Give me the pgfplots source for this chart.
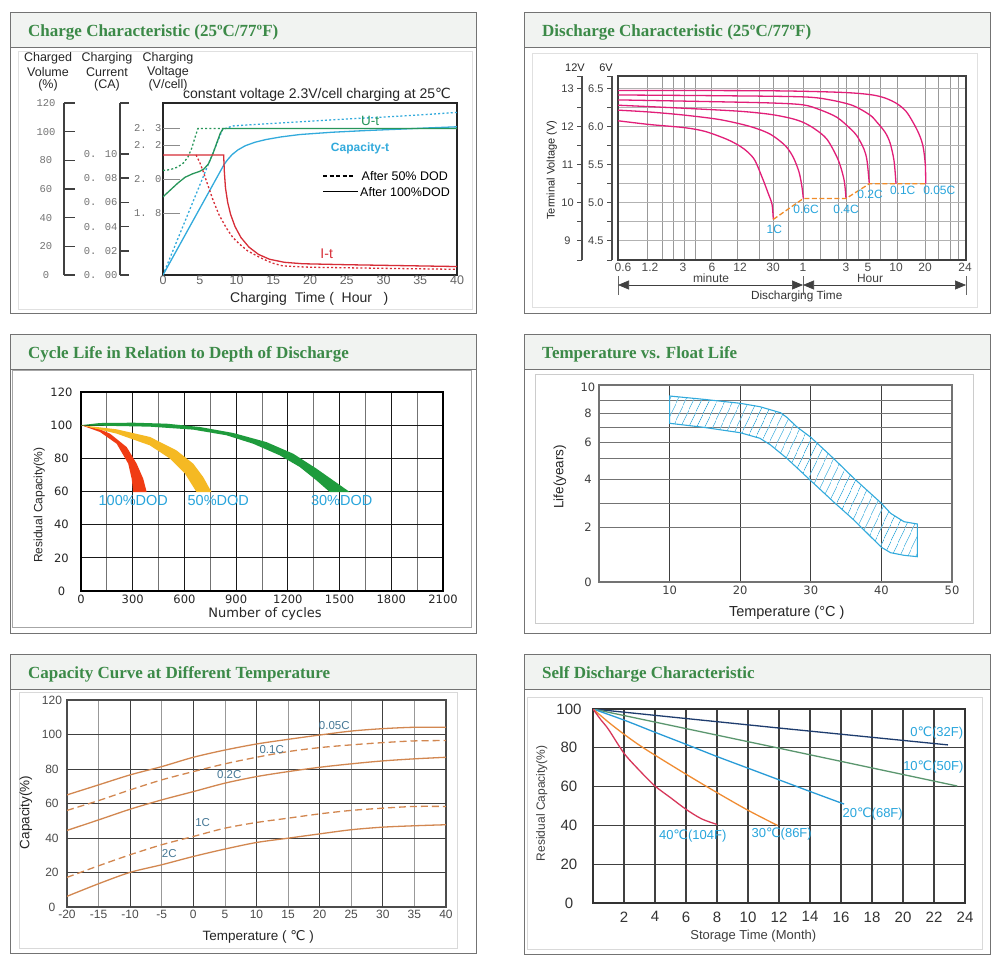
\documentclass[border=0pt]{standalone}
\usepackage{fontspec}
\setmainfont{Liberation Sans}
\newfontfamily\titlefont{Liberation Serif}
\newfontfamily\monofont{Liberation Mono}
\newfontfamily\dvfont{DejaVu Sans}
\usepackage{pgfplots}
\pgfplotsset{compat=1.18}
\usetikzlibrary{patterns.meta,arrows.meta}

\definecolor{ttlgreen}{RGB}{60,138,72}
\definecolor{hdbg}{RGB}{241,243,241}
\definecolor{pframe}{RGB}{115,115,115}
\definecolor{cyanA}{RGB}{50,170,220}
\definecolor{greenA}{RGB}{40,150,90}
\definecolor{redA}{RGB}{215,45,55}
\definecolor{magA}{RGB}{226,30,120}
\definecolor{orgA}{RGB}{240,140,40}
\definecolor{lblcyan}{RGB}{40,165,220}
\definecolor{clA}{RGB}{240,60,20}
\definecolor{clB}{RGB}{245,185,35}
\definecolor{clC}{RGB}{30,155,60}
\definecolor{capor}{RGB}{210,135,80}
\definecolor{capblue}{RGB}{70,120,150}
\definecolor{sdA}{RGB}{30,60,110}
\definecolor{sdB}{RGB}{90,150,110}
\definecolor{sdC}{RGB}{40,155,215}
\definecolor{sdD}{RGB}{240,140,50}
\definecolor{sdE}{RGB}{215,55,90}

\newcommand{\fs}[1]{\fontsize{#1}{#1}\selectfont}
\newcommand{\degC}{{\dvfont ℃}}
\newcommand{\panel}[5]{%
  \fill[white] (#1pt,-#2pt) rectangle (#3pt,-#4pt);
  \fill[hdbg] (#1pt,-#2pt) rectangle (#3pt,{-(#2+35)*1pt});
  \draw[pframe,line width=1pt] (#1pt,-#2pt) rectangle (#3pt,-#4pt);
  \draw[pframe,line width=1pt] (#1pt,{-(#2+35)*1pt}) -- (#3pt,{-(#2+35)*1pt});
  \node[anchor=base west,text=ttlgreen,font=\titlefont\bfseries\fs{17},inner sep=0pt] at ({(#1+18)*1pt},{-(#2+24)*1pt}) {#5};
}
\pgfplotsset{pb/.style={anchor=south west,scale only axis,/pgf/number format/assume math mode=true,/pgf/number format/1000 sep={}}}

\begin{document}
\begin{tikzpicture}
\path[use as bounding box] (0pt,0pt) rectangle (1000pt,-966pt);
\fill[white] (0pt,0pt) rectangle (1000pt,-966pt);

%================ PANEL 1 =================
\panel{10}{13}{476}{313}{Charge Characteristic (25ºC/77ºF)}
\draw[black!12] (18pt,-51pt) rectangle (472pt,-309pt);
\begin{scope}[every node/.style={font=\fs{12.5},text=black!85,inner sep=0pt}]
\node at (48pt,-58.5pt) {Charged};
\node at (48pt,-72.5pt) {Volume};
\node at (48pt,-85pt) {(\%)};
\node at (107pt,-58.5pt) {Charging};
\node at (107pt,-72.5pt) {Current};
\node at (107pt,-85pt) {(CA)};
\node at (168pt,-58.5pt) {Charging};
\node at (168pt,-72.5pt) {Voltage};
\node at (168pt,-85pt) {(V/cell)};
\node[font=\fs{14}] at (317pt,-94.5pt) {constant voltage 2.3V/cell charging at 25\degC};
\end{scope}

% volume bracket
\begin{axis}[pb,at={(64pt,-275pt)},width=11pt,height=172pt,
  xmin=0,xmax=1,ymin=0,ymax=120,hide x axis,axis y line*=left,
  axis line style={black!75,line width=1.6pt,-},
  ytick={0,20,40,60,80,100,120},yticklabels={0,20,40,60,80,100,120},
  tick align=inside,major tick length=11pt,
  tick style={black!75,line width=1.6pt},
  yticklabel style={font=\monofont\fs{10.5},text=black!55,text width=19pt,align=center,xshift=-5pt}]
\end{axis}
% current bracket
\begin{axis}[pb,at={(120pt,-275pt)},width=9pt,height=172pt,
  xmin=0,xmax=1,ymin=0,ymax=0.1421,hide x axis,axis y line*=left,
  axis line style={black!75,line width=1.6pt,-},
  ytick={0,0.02,0.04,0.06,0.08,0.1,0.1421},
  yticklabels={0. 00,0. 02,0. 04,0. 06,0. 08,0. 10,{}},
  tick align=inside,major tick length=9pt,
  tick style={black!75,line width=1.6pt},
  yticklabel style={font=\monofont\fs{10.5},text=black!55,xshift=1pt}]
\end{axis}
% main axis (volume units)
\begin{axis}[pb,at={(163pt,-275pt)},width=294pt,height=172pt,
  xmin=0,xmax=40,ymin=0,ymax=120,
  axis line style={black!85,line width=1.4pt},
  xtick={0,5,...,40},ytick=\empty,major tick length=0pt,
  xticklabel style={font=\fs{12.5},text=black!60,yshift=2.5pt}]
\addplot[cyanA,line width=1.3pt] coordinates {(0,0)(8.3,77)(8.8,80.5)(9.4,84)(10.2,87.3)(11.2,90.2)(12.5,92.6)(14,94.5)(16,96.3)(18.6,98)(23,99.6)(27.7,100.8)(32,101.7)(36,102.6)(40,103.4)};
\addplot[cyanA,line width=1.3pt,dash pattern=on 2pt off 2.2pt] coordinates {(0,0)(8.1,101.5)(9.5,104)(14.1,105.5)(18.6,106.9)(23.1,108.3)(32.2,110.8)(40,113.4)};
\end{axis}
% voltage axis
\begin{axis}[pb,at={(163pt,-275pt)},width=294pt,height=172pt,
  xmin=0,xmax=40,ymin=1.435,ymax=2.447,hide x axis,axis y line*=left,
  axis line style={draw=none},
  ytick={1.8,2.0,2.2,2.3},yticklabels={1. 8,2. 0,2. 2,2. 3},
  tick align=inside,major tick length=17pt,tick style={black!45,line width=0.8pt},
  yticklabel style={font=\monofont\fs{10.5},text=black!55,xshift=2pt}]
\addplot[greenA,line width=1.3pt] coordinates {(0,1.894)(0.5,1.915)(1,1.935)(2,1.975)(3,2.01)(4,2.03)(5,2.045)(5.6,2.06)(6.2,2.09)(6.8,2.15)(7.3,2.21)(7.8,2.27)(8.2,2.297)(40,2.297)};
\addplot[greenA,line width=1.3pt,dash pattern=on 2pt off 2.2pt] coordinates {(0,2.05)(1,2.055)(2,2.07)(2.8,2.095)(3.4,2.13)(3.9,2.18)(4.4,2.25)(4.75,2.297)(8.2,2.297)};
\end{axis}
% current axis
\begin{axis}[pb,at={(163pt,-275pt)},width=294pt,height=172pt,
  xmin=0,xmax=40,ymin=0,ymax=0.1421,hide axis]
\addplot[redA,line width=1.3pt] coordinates {(0,0.0992)(8.25,0.0992)(8.35,0.085)(8.5,0.072)(8.8,0.06)(9.2,0.05)(9.8,0.04)(10.6,0.031)(11.7,0.023)(13,0.017)(14.5,0.013)(16.5,0.0105)(19,0.0093)(25,0.0085)(32,0.0078)(40,0.007)};
\addplot[redA,line width=1.3pt,dash pattern=on 2pt off 2.2pt] coordinates {(4.5,0.0992)(5,0.093)(5.5,0.085)(6,0.076)(6.8,0.062)(7.6,0.05)(8.6,0.039)(9.5,0.031)(10.4,0.0256)(11.5,0.02)(13.2,0.0144)(14.8,0.01)(16.3,0.0075)(20,0.0064)(30,0.0055)(40,0.0047)};
\end{axis}
\node[text=greenA,font=\fs{13.5}] at (370pt,-120.5pt) {U-t};
\node[text=cyanA,font=\bfseries\fs{12}] at (360pt,-148.3pt) {Capacity-t};
\node[text=redA,font=\fs{14}] at (326.7pt,-253.3pt) {I-t};
\draw[black,line width=1.2pt,dash pattern=on 4pt off 2.5pt] (323pt,-176pt) -- (353pt,-176pt);
\node[anchor=west,inner sep=0pt,font=\fs{12.5}] at (361.5pt,-176pt) {After 50\% DOD};
\draw[black,line width=1.2pt] (323pt,-191.7pt) -- (358pt,-191.7pt);
\node[anchor=west,inner sep=0pt,font=\fs{12.5}] at (360pt,-191.7pt) {After 100\%DOD};
\node[font=\fs{14},text=black!85] at (309.3pt,-298.7pt) {Charging\ \ Time ( \ Hour \ \ )};

%================ PANEL 2 =================
\panel{524}{13}{990}{313}{Discharge Characteristic (25ºC/77ºF)}
\draw[black!12] (532pt,-53pt) rectangle (977pt,-307pt);
\begin{axis}[pb,at={(618pt,-260pt)},width=348pt,height=184pt,
  xmin=618,xmax=966,ymin=8.48,ymax=13.33,
  axis line style={black!75,line width=1.5pt},
  xtick={623,650,683,712,740,773,803,846,868,896,925,965},
  xticklabels={0.6,1.2,3,6,12,30,1,3,5,10,20,24},
  minor xtick={647,662,673,684,695,711,737,759,773,788,803,820,838,846,858,869,880,897,925,938,950,958},
  ytick={9,9.5,10,10.5,11,11.5,12,12.5,13},yticklabel=\empty,
  major tick length=0pt,minor tick length=0pt,
  xminorgrids=true,ymajorgrids=true,
  minor grid style={black!40,line width=0.7pt},major grid style={black!30,line width=0.7pt},
  xticklabel style={font=\fs{12},text=black!70}]
\addplot[magA,line width=1.3pt,smooth,tension=0.5] coordinates {(618,12.15)(650,12.05)(684,11.97)(705,11.87)(727,11.66)(740,11.48)(748,11.32)(755,11.1)(763,10.6)(768,10.25)(772,9.95)(773.3,9.55)};
\addplot[magA,line width=1.3pt,smooth,tension=0.5] coordinates {(618,12.43)(650,12.38)(684,12.3)(720,12.18)(750,12.0)(770,11.8)(785,11.5)(793,11.2)(799,10.8)(802,10.4)(803.3,10.1)};
\addplot[magA,line width=1.3pt,smooth,tension=0.5] coordinates {(618,12.56)(684,12.48)(740,12.4)(770,12.32)(790,12.22)(803,12.11)(815,11.93)(827,11.66)(838,11.13)(844,10.6)(846,10.1)};
\addplot[magA,line width=1.3pt,smooth,tension=0.5] coordinates {(618,12.7)(700,12.66)(770,12.62)(803,12.57)(820,12.44)(837,12.24)(850,11.95)(857,11.75)(864,11.4)(867,11.1)(869.3,10.49)};
\addplot[magA,line width=1.3pt,smooth,tension=0.5] coordinates {(618,12.83)(720,12.81)(803,12.78)(830,12.7)(853,12.55)(870,12.3)(877,12.11)(885,11.85)(890,11.57)(894,11.1)(896,10.49)};
\addplot[magA,line width=1.3pt,smooth,tension=0.5] coordinates {(618,12.95)(770,12.94)(840,12.9)(870,12.84)(885,12.75)(897,12.6)(906,12.4)(913,12.11)(919,11.8)(923,11.48)(925.3,11.0)(925.7,10.49)};
\addplot[orgA,line width=1.3pt,dash pattern=on 5pt off 2.5pt] coordinates {(773.3,9.55)(803.3,10.1)(846,10.1)(869.3,10.49)(925.7,10.49)};
\end{axis}
\begin{axis}[pb,at={(582pt,-260pt)},width=1pt,height=184pt,
  xmin=0,xmax=1,ymin=8.48,ymax=13.33,hide x axis,axis y line*=left,
  axis line style={black!70,line width=1.1pt,-},
  ytick={8.48,9,9.5,10,10.5,11,11.5,12,12.5,13,13.33},yticklabels={{},9,{},10,{},11,{},12,{},13,{}},
  tick align=outside,major tick length=5pt,tick style={black!70,line width=1pt},
  yticklabel style={font=\fs{11},text=black!75,text width=12pt,align=center}]
\end{axis}
\begin{axis}[pb,at={(612pt,-260pt)},width=1pt,height=184pt,
  xmin=0,xmax=1,ymin=8.48,ymax=13.33,hide x axis,axis y line*=left,
  axis line style={black!70,line width=1.1pt,-},
  ytick={8.48,9,9.5,10,10.5,11,11.5,12,12.5,13,13.33},yticklabels={{},4.5,{},5.0,{},5.5,{},6.0,{},6.5,{}},
  tick align=outside,major tick length=5pt,tick style={black!70,line width=1pt},
  yticklabel style={font=\fs{11},text=black!75}]
\end{axis}
\node[font=\fs{11},text=black!85] at (575pt,-67.7pt) {12V};
\node[font=\fs{11},text=black!85] at (606pt,-67.7pt) {6V};
\node[rotate=90,font=\fs{11},text=black!85] at (551.7pt,-170pt) {Terminal Voltage (V)};
\begin{scope}[every node/.style={font=\fs{12},text=lblcyan}]
\node at (774.3pt,-229.3pt) {1C};
\node at (806pt,-209.3pt) {0.6C};
\node at (846pt,-209.3pt) {0.4C};
\node at (870pt,-194.3pt) {0.2C};
\node at (902.7pt,-190pt) {0.1C};
\node at (939.3pt,-190pt) {0.05C};
\end{scope}
\node[font=\fs{12},text=black!75] at (711pt,-278.3pt) {minute};
\node[font=\fs{12},text=black!75] at (870pt,-278.3pt) {Hour};
\node[font=\fs{11.8},text=black!80] at (796.7pt,-296pt) {Discharging Time};
\draw[black!60,line width=0.6pt] (618pt,-276pt) -- (618pt,-295pt);
\draw[black!60,line width=0.6pt] (803pt,-276pt) -- (803pt,-295pt);
\draw[black!60,line width=0.6pt] (966pt,-276pt) -- (966pt,-295pt);
\draw[black!75,line width=0.6pt,{Triangle[length=11pt,width=9pt]}-{Triangle[length=11pt,width=9pt]}] (618pt,-285pt) -- (803pt,-285pt);
\draw[black!75,line width=0.6pt,{Triangle[length=11pt,width=9pt]}-{Triangle[length=11pt,width=9pt]}] (803pt,-285pt) -- (966pt,-285pt);

%================ PANEL 3 =================
\panel{10}{334}{476}{633}{Cycle Life in Relation to Depth of Discharge}
\draw[black!35,line width=0.8pt] (12pt,-370pt) rectangle (471pt,-627pt);
\begin{axis}[pb,at={(81pt,-591pt)},width=362pt,height=199pt,
  xmin=0,xmax=2100,ymin=0,ymax=120,
  axis line style={black,line width=1.5pt},
  xtick={0,300,...,2100},minor xtick={150,450,...,1950},ytick={0,20,...,120},
  grid=both,major grid style={black!90,line width=1.1pt},minor grid style={black!55,line width=0.8pt},
  major tick length=0pt,minor tick length=0pt,
  tick label style={font=\dvfont\fs{11.5},text=black!85},
  yticklabel style={text width=22pt,align=center,xshift=-5pt}]
\addplot[fill=clA,draw=none] coordinates {(0,100)(110,97.5)(168,94.9)(265,86.8)(323,76.8)(361,67.7)(381,59.7)(303,59.7)(294,67.7)(274,76.8)(207,88.8)(110,95.9)(0,100)} -- cycle;
\addplot[fill=clB,draw=none] coordinates {(0,100)(207,97.5)(400,92.9)(554,84.8)(651,76.8)(709,68.7)(757,59.7)(670,59.7)(603,70.8)(516,79.8)(400,87.8)(207,94.9)(0,100)} -- cycle;
\addplot[fill=clC,draw=none] coordinates {(0,100)(110,101.3)(303,101.5)(497,100.9)(690,98.9)(883,95.3)(1076,89.8)(1231,82.8)(1366,73.8)(1463,66.7)(1559,59.7)(1443,59.7)(1366,66.7)(1269,74.8)(1153,81.8)(999,88.8)(844,93.9)(651,97.3)(400,99.1)(110,99.7)(0,99.9)} -- cycle;
\end{axis}
\begin{scope}[every node/.style={font=\fs{14.5},text=lblcyan}]
\node at (133.3pt,-500.7pt) {100\%DOD};
\node at (218.3pt,-500.7pt) {50\%DOD};
\node at (341.7pt,-500.7pt) {30\%DOD};
\end{scope}
\node[rotate=90,font=\fs{12},text=black!85] at (39.3pt,-505pt) {Residual Capacity(\%)};
\node[font=\dvfont\fs{13},text=black!85] at (265pt,-614.3pt) {Number of cycles};

%================ PANEL 4 =================
\panel{524}{334}{990}{633}{Temperature vs. Float Life}
\draw[black!20,line width=0.8pt] (535pt,-374pt) rectangle (973pt,-623pt);
\begin{axis}[pb,at={(599pt,-582pt)},width=353pt,height=197pt,
  xmin=0,xmax=50,ymin=0,ymax=197,
  axis line style={black!55,line width=1.2pt},
  xtick={10,20,30,40,50},ytick={0,55,103,140,169,195},yticklabels={0,2,4,6,8,10},
  minor ytick={55,79,103,124,140,155,169,182},
  xmajorgrids=true,yminorgrids=true,
  major grid style={black!75,line width=1pt},minor grid style={black!55,line width=1pt},
  major tick length=0pt,minor tick length=0pt,
  tick label style={font=\dvfont\fs{11.5},text=black!75},
  yticklabel style={text width=15pt,align=center}]
\addplot[draw=cyanA,line width=1.1pt,pattern={Lines[angle=65,distance=6.5pt,line width=0.7pt]},pattern color=cyanA] coordinates {(10,186)(14.8,182.7)(20,178.7)(22.8,175.3)(25.7,169.3)(26.6,164.7)(28.0,155.3)(30.0,144.7)(33.2,123.7)(36.1,103.7)(40.0,78.7)(41.3,68.7)(43.2,60.3)(45.1,58)(45.1,25.3)(43.2,26.7)(41.3,29.3)(40.0,34.7)(36.1,62)(33.2,80.3)(30.0,101.3)(26.6,123.7)(24.3,137)(22.8,143.7)(20,149.3)(14.8,154.7)(10,158.7)} -- cycle;
\end{axis}
\node[rotate=90,font=\fs{13.5},text=black!85] at (560pt,-476.7pt) {Life(years)};
\node[font=\fs{14.5},text=black!85] at (786.7pt,-612.7pt) {Temperature (°C )};

%================ PANEL 5 =================
\panel{10}{654}{476}{953}{Capacity Curve at Different Temperature}
\draw[black!15,line width=0.8pt] (19pt,-692pt) rectangle (457pt,-948pt);
\begin{axis}[pb,at={(67pt,-907pt)},width=379pt,height=207pt,
  xmin=-20,xmax=40,ymin=0,ymax=120,
  axis line style={black!70,line width=1.1pt},
  xtick={-20,-15,...,40},ytick={0,20,...,120},
  grid=major,major grid style={black!40,line width=0.8pt},
  extra x ticks={-10,0,10,20,30},extra x tick labels={},
  extra x tick style={grid=major,major grid style={black!75,line width=0.9pt}},
  extra y ticks={20,40,60,80,100},extra y tick labels={},
  extra y tick style={grid=major,major grid style={black!75,line width=0.9pt}},
  major tick length=0pt,
  tick label style={font=\fs{12},text=black!70},
  yticklabel style={text width=20pt,align=center,xshift=-1.5pt}]
\addplot[capor,line width=1.3pt,smooth] coordinates {(-20,65)(-15,70.8)(-10,76.6)(-5,81.4)(0,86.8)(5,91)(10,94.5)(15,97.2)(20,99.7)(25,102)(30,103.4)(35,104.2)(40,104.2)};
\addplot[capor,line width=1.3pt,smooth,dash pattern=on 7pt off 4pt] coordinates {(-20,56)(-15,61.7)(-10,67.9)(-5,73.7)(0,78.5)(5,83)(10,86.8)(15,90.1)(20,92.4)(25,94)(30,95.3)(35,96.3)(40,96.5)};
\addplot[capor,line width=1.3pt,smooth] coordinates {(-20,44.4)(-15,50.5)(-10,56.7)(-5,62.1)(0,66.9)(5,71.8)(10,75.6)(15,78.5)(20,81)(25,83)(30,84.7)(35,85.9)(40,86.8)};
\addplot[capor,line width=1.3pt,smooth,dash pattern=on 7pt off 4pt] coordinates {(-20,17.2)(-15,23.9)(-10,30.3)(-5,36.1)(0,40.9)(5,45.7)(10,49)(15,51.5)(20,54)(25,56)(30,57.3)(35,58.3)(40,58.3)};
\addplot[capor,line width=1.3pt,smooth] coordinates {(-20,6.2)(-15,13.5)(-10,20.1)(-5,24.5)(0,29.3)(5,33.6)(10,37.4)(15,39.9)(20,42.4)(25,44.8)(30,46.3)(35,47.1)(40,47.7)};
\end{axis}
\begin{scope}[every node/.style={font=\fs{11.5},text=capblue}]
\node at (334.3pt,-726pt) {0.05C};
\node at (271.7pt,-749.3pt) {0.1C};
\node at (229.3pt,-775pt) {0.2C};
\node at (202.7pt,-822.7pt) {1C};
\node at (169.3pt,-853.3pt) {2C};
\end{scope}
\node[rotate=90,font=\fs{13.5},text=black!85] at (26pt,-812.3pt) {Capacity(\%)};
\node[font=\fs{13.5},text=black!85] at (258.3pt,-937.3pt) {Temperature ( \degC\ )};

%================ PANEL 6 =================
\panel{524}{654}{990}{954}{Self Discharge Characteristic}
\draw[black!15,line width=0.8pt] (527pt,-697pt) rectangle (982pt,-949pt);
\begin{axis}[pb,at={(593pt,-903pt)},width=372pt,height=194pt,
  xmin=0,xmax=24,ymin=0,ymax=100,
  axis line style={black!80,line width=1.4pt},
  xtick={2,4,...,24},ytick={0,20,...,100},
  grid=major,major grid style={black!75,line width=1.1pt},
  major tick length=0pt,
  tick label style={font=\fs{15},text=black!80},
  xticklabel style={yshift=-5pt},
  yticklabel style={text width=25pt,align=center,xshift=-8pt}]
\addplot[sdA,line width=1.3pt] coordinates {(0,100)(12,90.2)(22.9,81.5)};
\addplot[sdB,line width=1.3pt] coordinates {(0,100)(12,79.8)(23.5,60.3)};
\addplot[sdC,line width=1.3pt,smooth] coordinates {(0,100)(2,94.3)(4,88)(6,81.8)(8,75.5)(10,69.5)(12,63.5)(14,57.5)(16.2,51)};
\addplot[sdD,line width=1.3pt,smooth] coordinates {(0,100)(1,93.2)(2,87)(3,81.3)(4,76.2)(6,66.4)(8,56.9)(10,47.8)(11.9,40)};
\addplot[sdE,line width=1.3pt,smooth] coordinates {(0,100)(0.5,94.5)(1,89.5)(2,77.2)(3,68.3)(4,60.3)(5,54.3)(6,48.3)(7,43.4)(8,40.5)};
\end{axis}
\begin{scope}[every node/.style={font=\fs{13},text=lblcyan}]
\node at (936.7pt,-732.7pt) {0\degC(32F)};
\node at (933.3pt,-767.3pt) {10\degC(50F)};
\node at (872.7pt,-814.3pt) {20\degC(68F)};
\node at (781.7pt,-834pt) {30\degC(86F)};
\node at (692.7pt,-835.7pt) {40\degC(104F)};
\end{scope}
\node[rotate=90,font=\fs{12},text=black!75] at (541.7pt,-803.3pt) {Residual Capacity(\%)};
\node[font=\fs{13},text=black!75] at (753.3pt,-936pt) {Storage Time (Month)};
\end{tikzpicture}
\end{document}
